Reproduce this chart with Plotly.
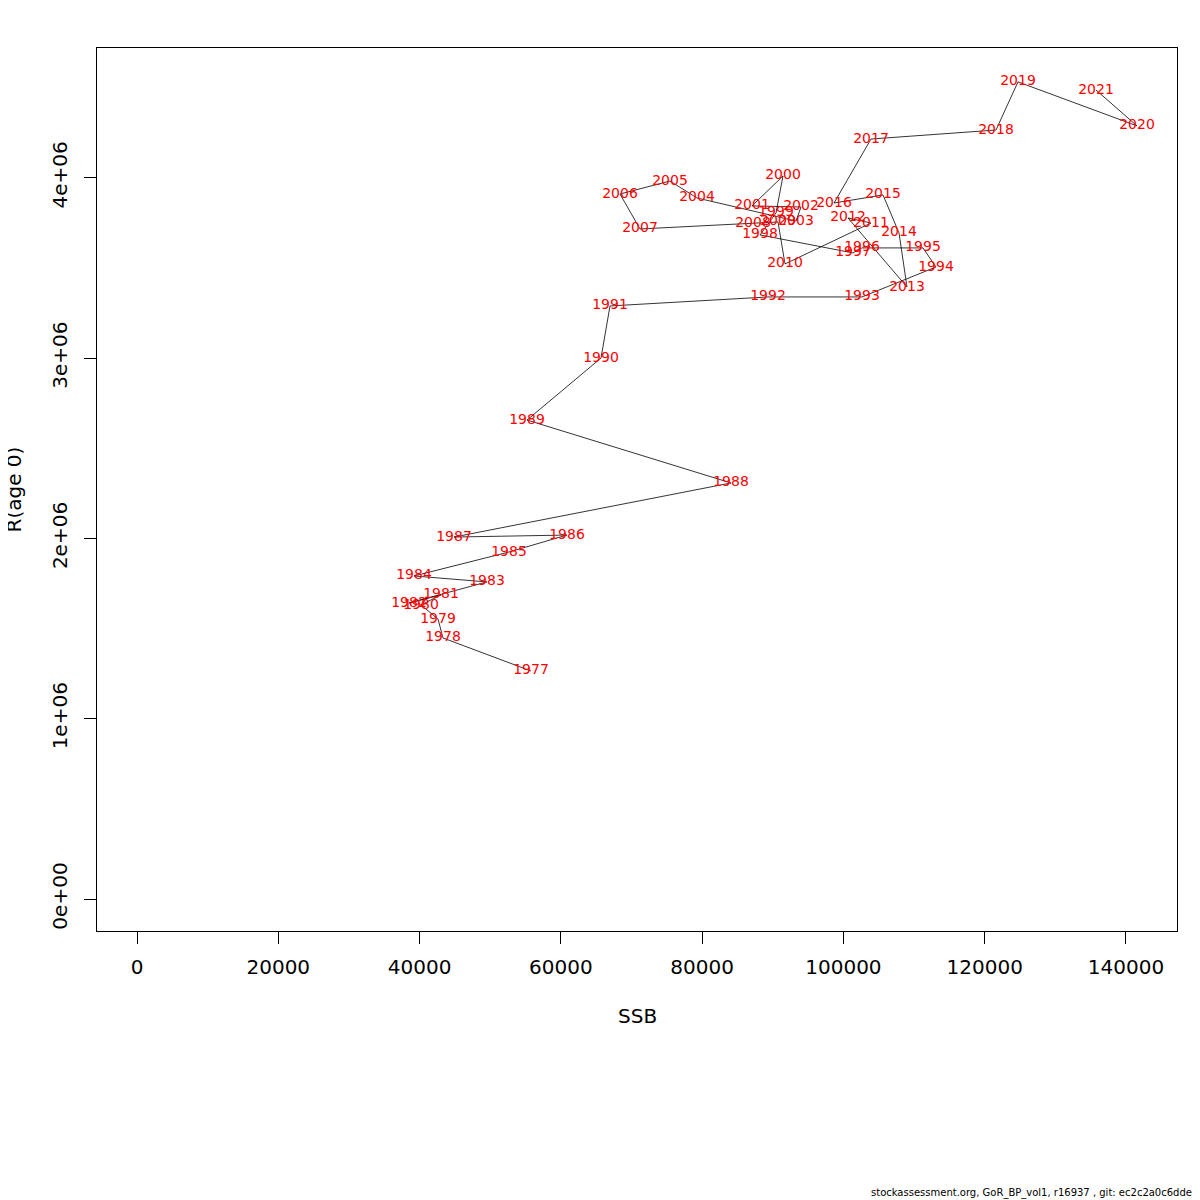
import plotly.graph_objects as go

# Stock-recruitment: SSB vs recruitment (age 0), one point per year
years = list(range(1977, 2022))
ssb = [
    55775, 43317, 42610, 40203, 43034, 38504, 49545, 39212, 52660, 60870,
    44874, 84087, 55209, 65684, 66958, 89324, 102630, 113106, 111266, 102630,
    101356, 88192, 90457, 91448, 87059, 93995, 93288, 79274, 75452, 68373,
    71205, 87201, 90740, 91731, 103904, 100649, 109000, 107870, 105605, 98668,
    103904, 121600, 124713, 141557, 135756,
]
recruits = [
    1.265e6, 1.448e6, 1.553e6, 1.631e6, 1.687e6, 1.642e6, 1.759e6, 1.792e6, 1.925e6, 2.019e6,
    2.008e6, 2.308e6, 2.657e6, 3.001e6, 3.290e6, 3.340e6, 3.340e6, 3.506e6, 3.612e6, 3.612e6,
    3.584e6, 3.684e6, 3.806e6, 4.011e6, 3.845e6, 3.839e6, 3.761e6, 3.889e6, 3.983e6, 3.911e6,
    3.717e6, 3.750e6, 3.756e6, 3.523e6, 3.750e6, 3.778e6, 3.395e6, 3.695e6, 3.906e6, 3.861e6,
    4.216e6, 4.266e6, 4.533e6, 4.289e6, 4.488e6,
]

x_ticks = [0, 20000, 40000, 60000, 80000, 100000, 120000, 140000]
y_ticks = [0, 1e6, 2e6, 3e6, 4e6]
y_ticklabels = ["0e+00", "1e+06", "2e+06", "3e+06", "4e+06"]

font_family = "DejaVu Sans"

fig = go.Figure()

# path through the years
fig.add_trace(go.Scatter(
    x=ssb, y=recruits, mode="lines",
    line=dict(color="black", width=0.8),
    hoverinfo="skip",
))

# year labels in red at each point
fig.add_trace(go.Scatter(
    x=ssb, y=recruits, mode="text",
    text=[str(y) for y in years],
    textposition="middle center",
    textfont=dict(color="red", size=14, family=font_family),
))

axis_style = dict(
    showgrid=False, zeroline=False,
    showline=True, linecolor="black", linewidth=1, mirror=True,
    ticks="outside", ticklen=12, tickcolor="black", tickwidth=1,
    tickfont=dict(size=20, color="black", family=font_family),
)

fig.update_xaxes(
    range=[-5662, 147222],
    tickvals=x_ticks,
    ticktext=[str(v) for v in x_ticks],
    ticklabelstandoff=6,
    **axis_style,
)
fig.update_yaxes(
    range=[-177531, 4.721e6],
    tickvals=y_ticks,
    ticktext=y_ticklabels,
    tickangle=-90,
    ticklabelstandoff=9,
    **axis_style,
)

fig.add_annotation(
    text="SSB", xref="paper", yref="paper", x=0.5, y=0,
    yshift=-85, showarrow=False, yanchor="middle",
    font=dict(size=20, color="black", family=font_family),
)
fig.add_annotation(
    text="R(age 0)", xref="paper", yref="paper", x=0, y=0.5,
    xshift=-84, showarrow=False, xanchor="center", textangle=-90,
    font=dict(size=20, color="black", family=font_family),
)
fig.add_annotation(
    text="stockassessment.org, GoR_BP_vol1, r16937 , git: ec2c2a0c6dde",
    xref="paper", yref="paper", x=1, y=0, xshift=17, yshift=-262,
    xanchor="right", yanchor="middle", showarrow=False,
    font=dict(size=10, color="black", family=font_family),
)

fig.update_layout(
    width=1200, height=1200,
    margin=dict(l=89, r=31, t=40, b=277),
    plot_bgcolor="white", paper_bgcolor="white",
    showlegend=False,
)

fig.write_html("out.html")
